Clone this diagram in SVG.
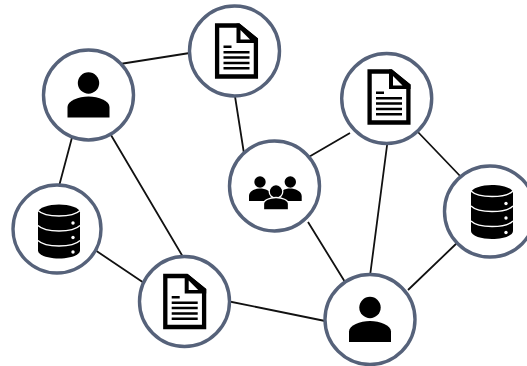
<svg xmlns="http://www.w3.org/2000/svg" width="527" height="366" viewBox="0 0 527 366">
<style>
.e{stroke:#111;stroke-width:1.8;fill:none}
.c{fill:#fff;stroke:#56627a;stroke-width:3.4}
.k{fill:#000}
.a{fill:none;stroke:#fff;stroke-width:1.300}
.d{fill:#fff;stroke:#000;stroke-width:4.300;stroke-linejoin:miter}
.t{stroke:#000;stroke-width:2.400;fill:none}
</style>
<defs>
<g id="person"><circle class="k" cx="0" cy="-12" r="10.700"/><path class="k" d="M-21 22.500V12C-21 6-10 1.500 0 1.500S21 6 21 12V22.500Z"/></g>
<g id="doc"><path class="d" d="M-19.400-25.500H2L19.400-11.500V25.500H-19.400Z"/><path class="k" d="M0-27.500H3L21.500-12.500V-8H0Z"/><path fill="#fff" d="M4-21 13.500-11.500H4Z"/><path class="t" d="M-13-4.300H-5M-13 1.300H13M-13 6.500H13M-13 12H13M-13 17.300H13"/></g>
<g id="db"><path class="k" d="M-21-19C-21-24-10-27 0-27S21-24 21-19V19C21 24 10 27 0 27S-21 24-21 19Z"/><path class="a" d="M-21-21C-17-17-8-15.500 0-15.500S17-17 21-21M-21-6C-17-2-8-.5 0-.5S17-2 21-6M-21 9C-17 13-8 14.500 0 14.500S17 13 21 9"/><circle cx="14" cy="-8.500" r="1.700" fill="#fff"/><circle cx="14" cy="6" r="1.700" fill="#fff"/><circle cx="14" cy="20.500" r="1.700" fill="#fff"/></g>
</defs>
<g id="connectors">
<path class="e" d="M120 64 196 52M234 90 245 160M74 130 58 190M108 130 186 262M95 250 150 287M222 300 330 322M307 158 350 133M308 222 345 282M388 138 370 276M416 130 462 178M408 290 458 242"/>
</g>
<g id="n1"><circle class="c" cx="88.500" cy="95" r="45"/><use href="#person" x="88.500" y="95"/></g>
<g id="n2"><circle class="c" cx="234.500" cy="51" r="45"/><use href="#doc" x="236.500" y="51"/></g>
<g id="n3"><circle class="c" cx="386.700" cy="98.500" r="45"/><use href="#doc" x="389" y="97"/></g>
<g id="n4"><circle class="c" cx="274.500" cy="186" r="45"/>
<circle class="k" cx="260" cy="182" r="5.700"/><circle class="k" cx="290.300" cy="182" r="5.700"/>
<path class="k" d="M249 201V196C249 191 255 188.500 260 188.500S272 191 272 196V201ZM279 201V196C279 191 285 188.500 290 188.500S301.700 191 301.700 196V201Z"/>
<circle class="k" cx="276" cy="191.500" r="6.800" stroke="#fff" stroke-width="1.300"/>
<path class="k" stroke="#fff" stroke-width="1.300" d="M263.500 210V204C263.500 200 270 197.500 276 197.500S288.500 200 288.500 204V210Z"/></g>
<g id="n5"><circle class="c" cx="57" cy="229" r="44"/><use href="#db" x="59" y="231.500"/></g>
<g id="n6"><circle class="c" cx="184.500" cy="301.500" r="45"/><use href="#doc" x="184.700" y="301.500"/></g>
<g id="n7"><circle class="c" cx="370" cy="319.500" r="45"/><use href="#person" x="370" y="319.500"/></g>
<g id="n8"><circle class="c" cx="490" cy="211.500" r="45.500"/><use href="#db" x="492" y="212"/></g>
</svg>
